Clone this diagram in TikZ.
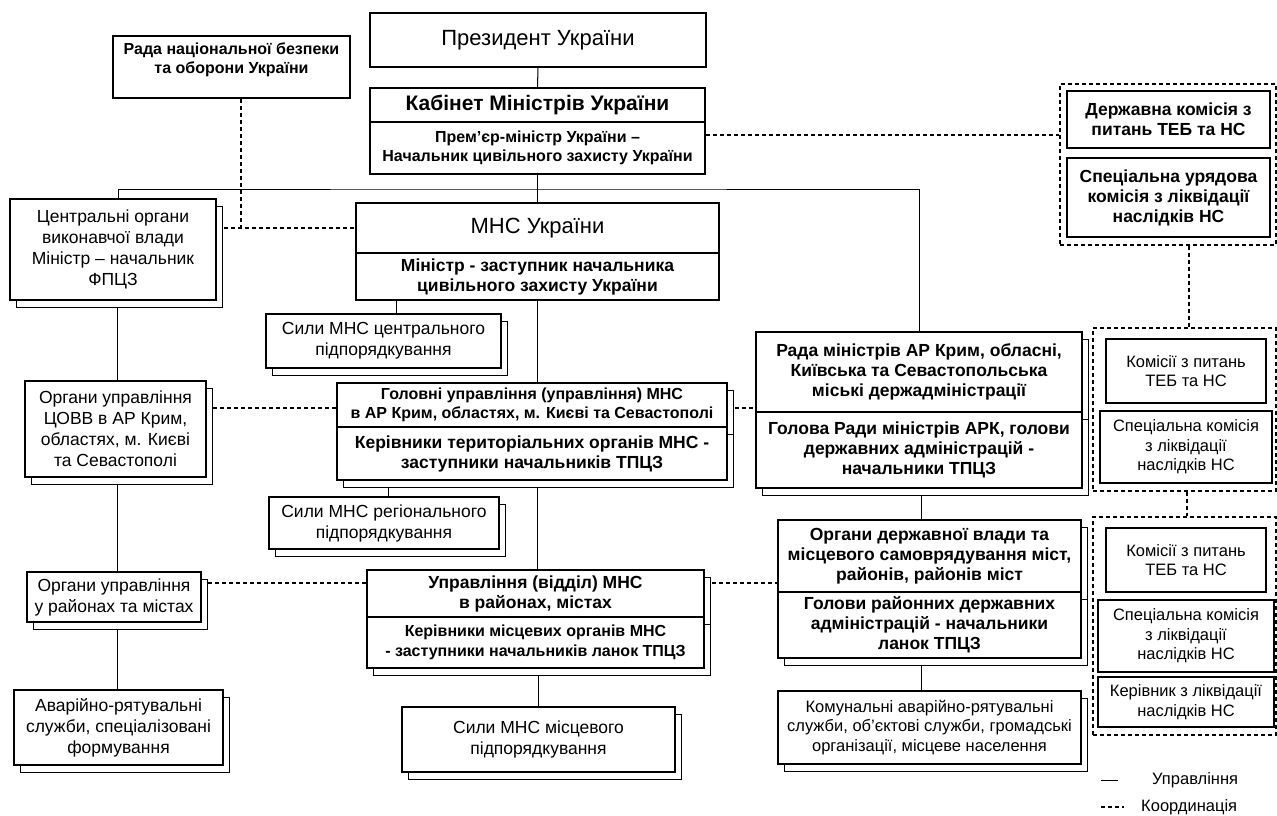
\documentclass[tikz,border=0pt]{standalone}
\usepackage{fontspec}
\setmainfont{Liberation Sans}
\usetikzlibrary{shadows,backgrounds}

\newcommand{\ftitle}{\fontsize{22}{25}\selectfont}
\newcommand{\fbig}{\bfseries\fontsize{21}{24}\selectfont}
\newcommand{\fhead}{\bfseries\fontsize{16}{19.5}\selectfont}
\newcommand{\fbold}{\bfseries\fontsize{17.5}{20}\selectfont}
\newcommand{\freg}{\fontsize{17.5}{21}\selectfont}
\newcommand{\fsmall}{\fontsize{16.5}{19.5}\selectfont}

\begin{document}
\begin{tikzpicture}[x=1pt, y=-1pt,
    boxx/.style={draw, line width=1.6pt, fill=white, inner sep=0pt, align=center},
    shad/.style={copy shadow={shadow xshift=6.5pt, shadow yshift=-7.5pt, line width=1.2pt}},
    grp/.style={draw, line width=1.2pt, dash pattern=on 4pt off 3pt, inner sep=0pt},
    ctrl/.style={line width=1pt},
    coord/.style={line width=1.2pt, dash pattern=on 4pt off 3pt}]
    \useasboundingbox (0,0) rectangle (1277,816);

    \node[boxx, minimum width=336pt, minimum height=54pt, font=\ftitle] (pres) at (538,40) {Президент України};
    \node[boxx, minimum width=237pt, minimum height=62pt] (rnbo) at (231.5,67) {};
    \node[inner sep=0pt, align=center, font=\fhead] (rnbotxt) at (231.5,60) {Рада національної безпеки\\та оборони України};
    \node[boxx, minimum width=335pt, minimum height=34pt, font=\fbig] (cabT) at (537.5,105) {Кабінет Міністрів України};
    \node[boxx, minimum width=335pt, minimum height=52pt, font=\fhead] (cabB) at (537.5,148) {Прем'єр-міністр України --\\Начальник цивільного захисту України};

    \node[grp, minimum width=216pt, minimum height=161pt] (grpA) at (1168,164.5) {};
    \node[boxx, minimum width=203pt, minimum height=57pt, font=\fbold] (derzh) at (1168.5,119.5) {Державна комісія з\\питань ТЕБ та НС};
    \node[boxx, minimum width=203pt, minimum height=79pt, font=\fbold] (spUr) at (1168.5,197.5) {Спеціальна урядова\\комісія з ліквідації\\наслідків НС};

    \node[boxx, shad, minimum width=206pt, minimum height=101pt, font=\freg] (centr) at (113,249.5) {Центральні органи\\виконавчої влади\\Міністр -- начальник\\ФПЦЗ};
    \node[boxx, minimum width=363pt, minimum height=50pt, font=\ftitle] (mnsT) at (537.5,228) {МНС України};
    \node[boxx, minimum width=363pt, minimum height=47pt, font=\fbold] (mnsB) at (537.5,276.5) {Міністр - заступник начальника\\цивільного захисту України};
    \node[boxx, shad, minimum width=235pt, minimum height=54pt, font=\freg] (silyC) at (383.5,341) {Сили МНС центрального\\підпорядкування};

    \node[boxx, shad, minimum width=181pt, minimum height=96pt, font=\freg] (covv) at (115.5,429) {Органи управління\\ЦОВВ в АР Крим,\\областях, м. Києві\\та Севастополі};
    \node[boxx, shad, minimum width=390pt, minimum height=44pt, font=\fhead] (golT) at (532,405) {Головні управління (управління) МНС\\в АР Крим, областях, м. Києві та Севастополі};
    \node[boxx, shad, minimum width=390pt, minimum height=53pt, font=\fbold] (golB) at (532,453.5) {Керівники територіальних органів МНС -\\заступники начальників ТПЦЗ};
    \node[boxx, shad, minimum width=326pt, minimum height=80pt, font=\fbold] (radaT) at (919,372) {Рада міністрів АР Крим, обласні,\\Київська та Севастопольська\\міські держадміністрації};
    \node[boxx, shad, minimum width=326pt, minimum height=76pt, font=\fbold] (radaB) at (919,450) {Голова Ради міністрів АРК, голови\\державних адміністрацій -\\начальники ТПЦЗ};

    \node[grp, minimum width=183pt, minimum height=163pt] (grpB) at (1184.5,409.5) {};
    \node[boxx, minimum width=160pt, minimum height=64pt, font=\fsmall] (komA) at (1186,371) {Комісії з питань\\ТЕБ та НС};
    \node[boxx, minimum width=172pt, minimum height=72pt, font=\fsmall] (spA) at (1186,447) {Спеціальна комісія\\з ліквідації\\наслідків НС};

    \node[boxx, shad, minimum width=230pt, minimum height=52pt, font=\freg] (silyR) at (384,523) {Сили МНС регіонального\\підпорядкування};
    \node[boxx, shad, minimum width=303pt, minimum height=72pt, font=\fbold] (orgT) at (929.5,556) {Органи державної влади та\\місцевого самоврядування міст,\\районів, районів міст};
    \node[boxx, shad, minimum width=303pt, minimum height=66pt, font=\fbold] (orgB) at (929.5,625) {Голови районних державних\\адміністрацій - начальники\\ланок ТПЦЗ};

    \node[grp, minimum width=183pt, minimum height=218pt] (grpC) at (1184.5,626) {};
    \node[boxx, minimum width=160pt, minimum height=64pt, font=\fsmall] (komB) at (1186,560) {Комісії з питань\\ТЕБ та НС};
    \node[boxx, minimum width=176pt, minimum height=72pt, font=\fsmall] (spB) at (1186,636) {Спеціальна комісія\\з ліквідації\\наслідків НС};
    \node[boxx, minimum width=176pt, minimum height=50pt, font=\fsmall] (ker) at (1186,702) {Керівник з ліквідації\\наслідків НС};

    \node[boxx, shad, minimum width=174pt, minimum height=50pt, font=\freg] (rayony) at (114,597) {Органи управління\\у районах та містах};
    \node[boxx, shad, minimum width=337pt, minimum height=47pt, font=\fbold] (updT) at (535.5,593.5) {Управління (відділ) МНС\\в районах, містах};
    \node[boxx, shad, minimum width=337pt, minimum height=51pt, font=\fhead] (updB) at (535.5,642.5) {Керівники місцевих органів МНС\\- заступники начальників ланок ТПЦЗ};

    \node[boxx, shad, minimum width=209pt, minimum height=75pt, font=\freg] (avar) at (118.5,727.5) {Аварійно-рятувальні\\служби, спеціалізовані\\формування};
    \node[boxx, shad, minimum width=273pt, minimum height=65pt, font=\freg] (silyM) at (538.5,739.5) {Сили МНС місцевого\\підпорядкування};
    \node[boxx, shad, minimum width=303pt, minimum height=73pt, font=\fsmall] (komun) at (929.5,727.5) {Комунальні аварійно-рятувальні\\служби, об'єктові служби, громадські\\організації, місцеве населення};

    % legend
    \coordinate (lgA) at (1101,780);
    \coordinate (lgB) at (1118,780);
    \coordinate (lgC) at (1101,807);
    \coordinate (lgD) at (1124,807);
    \draw[ctrl] (lgA) -- (lgB);
    \draw[coord] (lgC) -- (lgD);
    \node[anchor=west, inner sep=0pt, font=\fsmall] (lgctrl) at (1152,780) {Управління};
    \node[anchor=west, inner sep=0pt, font=\fsmall] (lgcoord) at (1141,807) {Координація};

    \begin{scope}[on background layer]
      \fill[white] (0,0) rectangle (1277,816);
      \coordinate (bus) at (538,189);
      \draw[ctrl] (pres.south) -- (cabT.north);
      \draw[ctrl] (cabB.south) -- (mnsT.north);
      \draw[ctrl] ([xshift=5pt]centr.north) |- (bus) -| (radaT.north);
      \draw[ctrl] ([xshift=12.5pt]silyC.north) -- ([xshift=12.5pt]silyC.north |- mnsB.south);
      \draw[ctrl] (mnsB.south) -- (mnsB.south |- golT.north);
      \draw[ctrl] ([xshift=1.5pt]covv.north) -- ([xshift=1.5pt]covv.north |- centr.south);
      \draw[ctrl] ([xshift=1.5pt]covv.south) -- ([xshift=1.5pt]covv.south |- rayony.north);
      \draw[ctrl] ([xshift=1.5pt]covv.south |- rayony.south) -- ([xshift=1.5pt]covv.south |- avar.north);
      \draw[ctrl] ([xshift=4pt]silyR.north) -- ([xshift=4pt]silyR.north |- golB.south);
      \draw[ctrl] (mnsB.south |- golB.south) -- (mnsB.south |- updT.north);
      \draw[ctrl] (silyM.north) -- (silyM.north |- updB.south);
      \draw[ctrl] ([xshift=2pt]radaB.south) -- ([xshift=2pt]radaB.south |- orgT.north);
      \draw[ctrl] ([xshift=2pt]radaB.south |- orgB.south) -- ([xshift=2pt]radaB.south |- komun.north);

      \draw[coord] ([xshift=9.5pt]rnbo.south) -- ([xshift=9.5pt]rnbo.south |- mnsT.west);
      \draw[coord] (centr.east |- mnsT.west) -- (mnsT.west);
      \draw[coord] ([yshift=13pt]cabB.east) -- ([yshift=13pt]cabB.east -| grpA.west);
      \draw[coord] ([yshift=-3pt]golT.west) -- ([yshift=-3pt]golT.west -| covv.east);
      \draw[coord] ([yshift=-3pt]golT.east) -- ([yshift=-3pt]golT.east -| radaT.west);
      \draw[coord] ([yshift=10.5pt]updT.west) -- ([yshift=10.5pt]updT.west -| rayony.east);
      \draw[coord] ([yshift=10.5pt]updT.east) -- ([yshift=10.5pt]updT.east -| orgT.west);
      \draw[coord] ([xshift=21pt]grpA.south) -- ([xshift=21pt]grpA.south |- grpB.north);
      \draw[coord] ([xshift=2.5pt]grpB.south) -- ([xshift=2.5pt]grpB.south |- grpC.north);
    \end{scope}
\end{tikzpicture}
\end{document}
